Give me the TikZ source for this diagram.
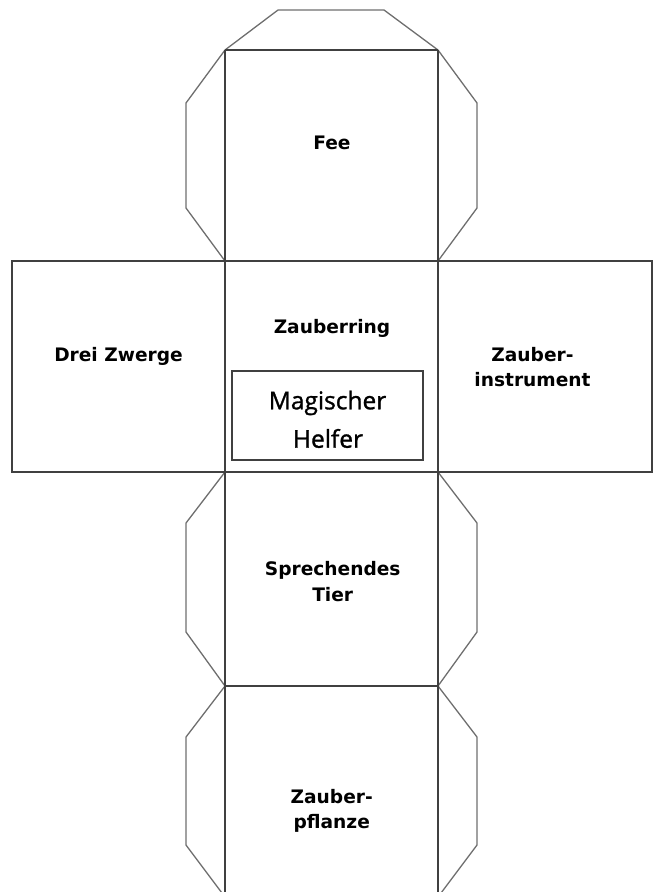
\documentclass[tikz,border=0pt]{standalone}
\usepackage{fontspec}
\setmainfont{DejaVu Sans}
\newfontfamily\helferfont[FakeBold=1.2]{Open Sans}
\definecolor{edge}{HTML}{404040}
\definecolor{flap}{HTML}{6E6E6E}
\begin{document}
\begin{tikzpicture}[x=1pt,y=-1pt,
  face/.style={draw=edge,line width=1.6pt},
  flapline/.style={draw=flap,line width=1.3pt,line join=miter},
  lbl/.style={anchor=base,inner sep=0pt,font=\bfseries\fontsize{18.6}{22}\selectfont},
  helfer/.style={anchor=base,inner sep=0pt,font=\helferfont\fontsize{24.5}{28}\selectfont}]
\useasboundingbox (0,0) rectangle (658,892);
\begin{scope}
\clip (0,0) rectangle (658,892);
% flaps of top face
\draw[flapline] (225,50) -- (278,10) -- (384,10) -- (438,50);
\draw[flapline] (225,50) -- (186,103) -- (186,208) -- (225,261);
\draw[flapline] (438,50) -- (477,103) -- (477,208) -- (438,261);
% flaps of lower faces
\draw[flapline] (225,472) -- (186,523) -- (186,632) -- (225,686);
\draw[flapline] (438,472) -- (477,523) -- (477,632) -- (438,686);
\draw[flapline] (225,686) -- (186,737) -- (186,845) -- (225,897);
\draw[flapline] (438,686) -- (477,737) -- (477,845) -- (438,897);
% faces
\draw[face] (12,261) rectangle (652,472);
\draw[face] (225,50) -- (438,50);
\draw[face] (225,686) -- (438,686);
\draw[face] (225,50) -- (225,900);
\draw[face] (438,50) -- (438,900);
\end{scope}
% inner box
\node[draw=edge,line width=1.3pt,minimum width=191pt,minimum height=89pt,inner sep=0pt] (box) at (327.5,415.5) {};
% labels
\node[lbl] (fee) at (332,149) {Fee};
\node[lbl] (ring) at (332,333.5) {Zauberring};
\node[lbl] (zwerge) at (118.5,361) {Drei Zwerge};
\node[lbl] (instr1) at (532.5,361.5) {Zauber-};
\node[lbl] (instr2) at (532.5,386) {instrument};
\node[helfer] (mag) at (327.5,409.3) {Magischer};
\node[helfer] (helf) at (328,447.7) {Helfer};
\node[lbl] (tier1) at (332.7,575.7) {Sprechendes};
\node[lbl] (tier2) at (332.7,601.7) {Tier};
\node[lbl] (pfl1) at (331.7,803.3) {Zauber-};
\node[lbl] (pfl2) at (331.7,828.3) {pflanze};
\end{tikzpicture}
\end{document}
